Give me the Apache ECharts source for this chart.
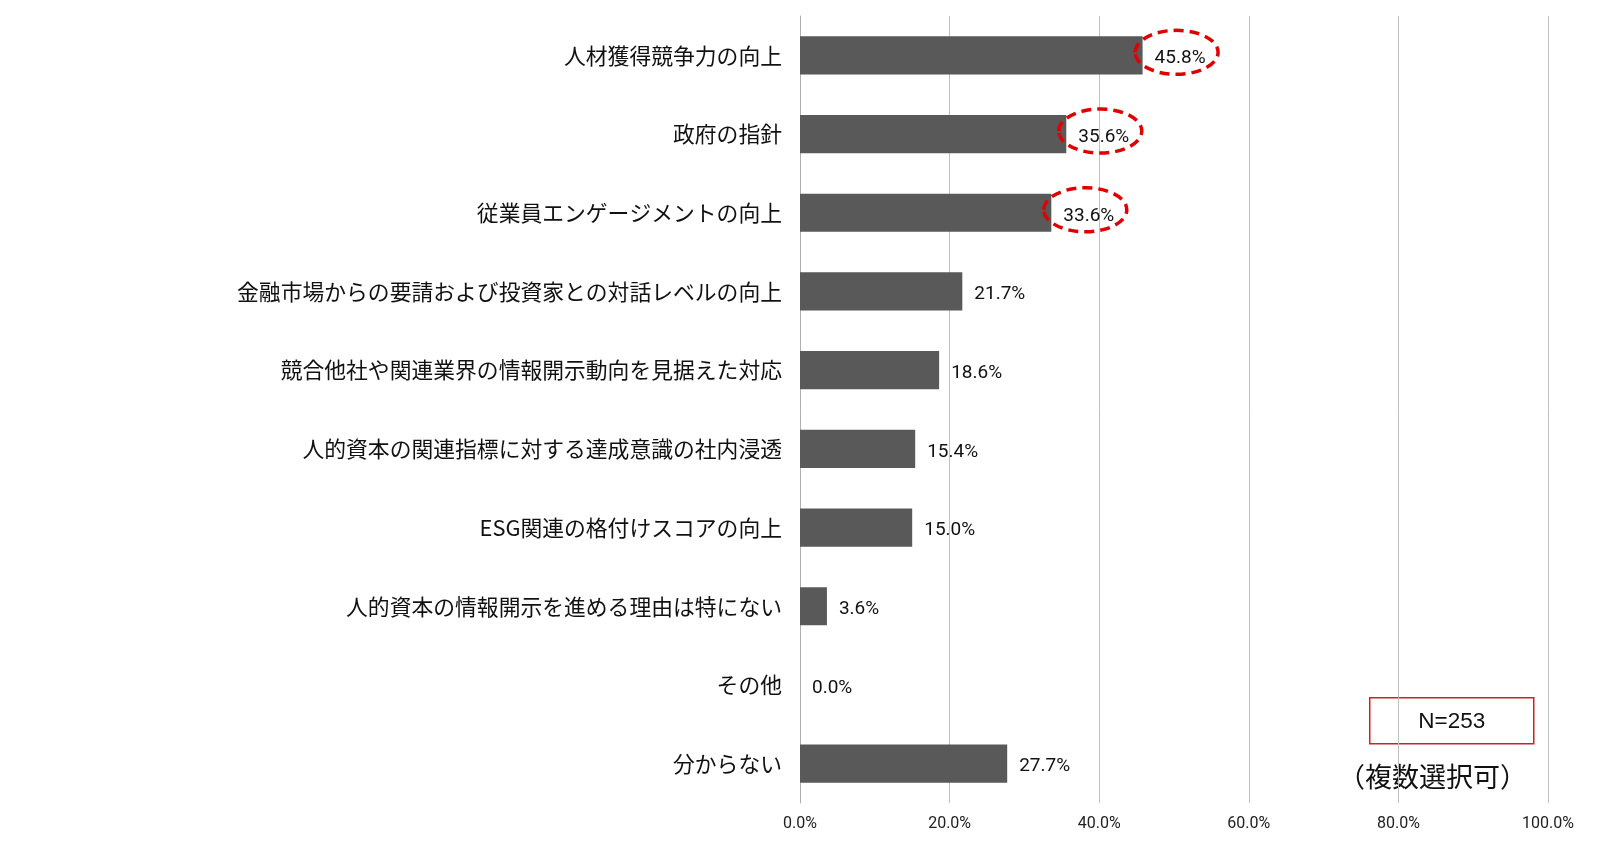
<!DOCTYPE html>
<html>
<head>
<meta charset="utf-8">
<script src="https://cdn.jsdelivr.net/npm/echarts@6/dist/echarts.min.js"></script>
<style>
html,body{margin:0;padding:0;background:#fff;}
#chart{width:1600px;height:846px;}
</style>
</head>
<body>
<div id="chart"></div>
<script>
const categories = [
  '人材獲得競争力の向上',
  '政府の指針',
  '従業員エンゲージメントの向上',
  '金融市場からの要請および投資家との対話レベルの向上',
  '競合他社や関連業界の情報開示動向を見据えた対応',
  '人的資本の関連指標に対する達成意識の社内浸透',
  'ESG関連の格付けスコアの向上',
  '人的資本の情報開示を進める理由は特にない',
  'その他',
  '分からない'
];
const values = [45.8, 35.6, 33.6, 21.7, 18.6, 15.4, 15.0, 3.6, 0.0, 27.7];
const highlighted = ['人材獲得競争力の向上', '政府の指針', '従業員エンゲージメントの向上'];
const xTicks = [0, 20, 40, 60, 80, 100];
const noteN = 'N=253';
const noteMulti = '（複数選択可）';

const highlightData = highlighted.map(c => [values[categories.indexOf(c)], c]);

const numFont = '"Roboto", "Liberation Sans", sans-serif';
const chart = echarts.init(document.getElementById('chart'), null, {renderer: 'canvas'});
chart.setOption({
  animation: false,
  backgroundColor: '#ffffff',
  grid: {left: 800, right: 52, top: 16, bottom: 43, containLabel: false},
  xAxis: {
    type: 'value',
    min: xTicks[0],
    max: xTicks[xTicks.length - 1],
    interval: 20,
    axisLine: {show: false},
    axisTick: {show: false},
    splitLine: {show: true, lineStyle: {color: '#c0c0c0', width: 1}},
    axisLabel: {
      margin: 13,
      fontFamily: numFont,
      fontSize: 16,
      color: '#222',
      formatter: v => v.toFixed(1) + '%'
    }
  },
  yAxis: {
    type: 'category',
    data: categories,
    inverse: true,
    axisLine: {show: true, lineStyle: {color: '#b0b0b0', width: 1}},
    axisTick: {show: false},
    axisLabel: {
      margin: 18,
      fontFamily: '"Noto Sans CJK JP", sans-serif',
      fontSize: 21.8,
      color: '#111'
    }
  },
  series: [
    {
      type: 'bar',
      data: values,
      barWidth: '48.5%',
      itemStyle: {color: '#595959'},
      label: {
        show: true,
        position: 'right',
        distance: 12,
        offset: [0, 3],
        fontFamily: numFont,
        fontSize: 19,
        color: '#111',
        formatter: p => p.value.toFixed(1) + '%'
      },
      z: 2
    },
    {
      type: 'custom',
      data: highlightData,
      encode: {x: 0, y: 1},
      z: 5,
      renderItem: function (params, api) {
        const p = api.coord([api.value(0), api.value(1)]);
        return {
          type: 'ellipse',
          shape: {cx: p[0] + 34, cy: p[1] - 3, rx: 41.5, ry: 22},
          style: {fill: 'none', stroke: '#e00000', lineWidth: 3.5, lineDash: [10, 6]}
        };
      }
    }
  ],
  graphic: [
    {
      type: 'group',
      left: 1369,
      top: 697,
      children: [
        {type: 'rect', shape: {x: 0, y: 0, width: 164, height: 46},
         style: {fill: '#ffffff', stroke: '#d42020', lineWidth: 1.5}},
        {type: 'text', x: 82, y: 24,
         style: {text: noteN, fontFamily: '"Liberation Sans", Arial, sans-serif', fontSize: 22.5,
                 fill: '#111', align: 'center', verticalAlign: 'middle'}}
      ]
    },
    {
      type: 'text',
      left: 1338,
      top: 763,
      style: {text: noteMulti, fontFamily: '"Noto Sans CJK JP", sans-serif', fontSize: 27, fill: '#111'}
    }
  ]
});
</script>
</body>
</html>
